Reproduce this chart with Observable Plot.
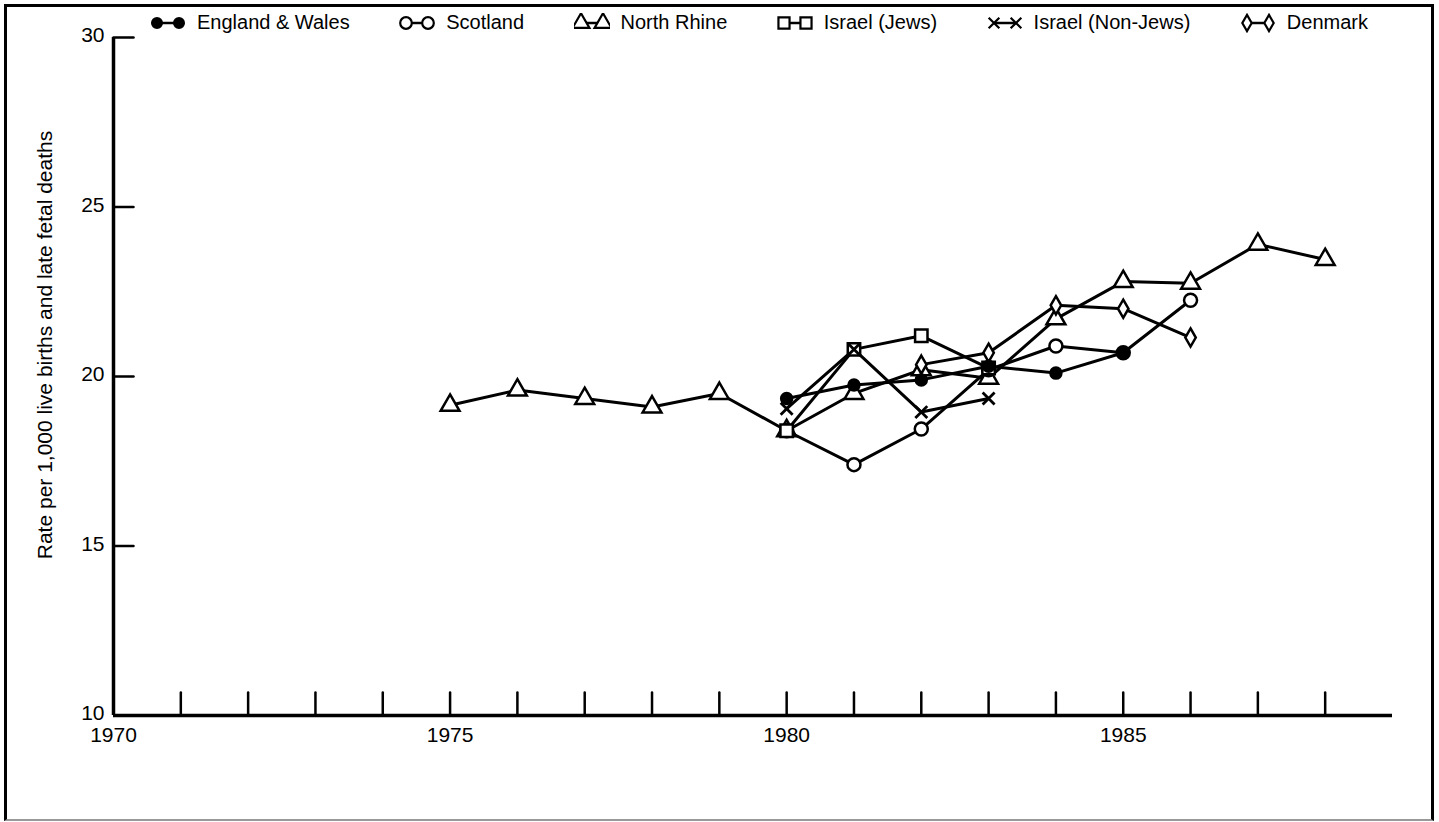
<!DOCTYPE html>
<html><head><meta charset="utf-8">
<script src="https://cdn.jsdelivr.net/npm/d3@7"></script>
<script src="https://cdn.jsdelivr.net/npm/@observablehq/plot@0.6"></script>
<style>
html,body{margin:0;padding:0;background:#fff;}
body{width:1439px;height:822px;overflow:hidden;position:relative;font-family:"Liberation Sans",Arial,sans-serif;color:#000;}
#chart{position:absolute;left:0;top:0;}
#frame{position:absolute;left:4px;top:4px;width:1430px;height:817px;border:3px solid #000;border-bottom:2px solid #999;box-sizing:border-box;pointer-events:none;}
#legend{position:absolute;left:150px;top:11px;width:1218px;display:flex;justify-content:space-between;align-items:center;font-size:20px;}
.item{display:flex;align-items:center;gap:11px;white-space:nowrap;}
.item svg{display:block;}
#ytitle{position:absolute;left:45px;top:345px;transform:translate(-50%,-50%) rotate(-90deg);white-space:nowrap;font-size:21px;}
</style></head>
<body>
<div id="chart"></div>
<div id="legend"></div>
<div id="ytitle">Rate per 1,000 live births and late fetal deaths</div>
<div id="frame"></div>
<script>
// ---- data ----
const seriesNames = ["England & Wales", "Scotland", "North Rhine", "Israel (Jews)", "Israel (Non-Jews)", "Denmark"];

const englandWalesYears = [1980, 1981, 1982, 1983, 1984, 1985];
const englandWalesRates = [19.35, 19.75, 19.9, 20.3, 20.1, 20.7];

const scotlandYears = [1980, 1981, 1982, 1983, 1984, 1985, 1986];
const scotlandRates = [18.4, 17.4, 18.45, 20.2, 20.9, 20.7, 22.25];

const northRhineYears = [1975, 1976, 1977, 1978, 1979, 1980, 1981, 1982, 1983, 1984, 1985, 1986, 1987, 1988];
const northRhineRates = [19.15, 19.6, 19.35, 19.1, 19.5, 18.4, 19.5, 20.2, 19.95, 21.7, 22.8, 22.75, 23.9, 23.45];

const israelJewsYears = [1980, 1981, 1982, 1983];
const israelJewsRates = [18.4, 20.8, 21.2, 20.25];

const israelNonJewsYears = [1980, 1981, 1982, 1983];
const israelNonJewsRates = [19.05, 20.8, 18.95, 19.35];

const denmarkYears = [1982, 1983, 1984, 1985, 1986];
const denmarkRates = [20.35, 20.7, 22.1, 22.0, 21.15];

const xLabelYears = [1970, 1975, 1980, 1985];
const xMinorTickYears = [1971, 1972, 1973, 1974, 1975, 1976, 1977, 1978, 1979, 1980, 1981, 1982, 1983, 1984, 1985, 1986, 1987, 1988];
const yTicks = [10, 15, 20, 25, 30];

// marker styles per series
const markerSymbol = ["circle", "circle", "triangle", "square", "times", "diamond"];
const markerFill   = ["#000", "#fff", "#fff", "#fff", "none", "#fff"];
const markerR      = [5.5, 6.5, 7, 7, 5.5, 5.5];

// ---- build table ----
const yearsBySeries = [englandWalesYears, scotlandYears, northRhineYears, israelJewsYears, israelNonJewsYears, denmarkYears];
const ratesBySeries = [englandWalesRates, scotlandRates, northRhineRates, israelJewsRates, israelNonJewsRates, denmarkRates];
const rows = [];
seriesNames.forEach((name, i) => {
  yearsBySeries[i].forEach((yr, j) => rows.push({series: name, idx: i, year: yr, rate: ratesBySeries[i][j]}));
});

const tickShape = {draw(context, l) { context.moveTo(0, 0); context.lineTo(0, -l); }};

const drawOrder = [2, 1, 3, 5, 4, 0];
const dotMarks = drawOrder.map(i => Plot.dot(rows.filter(d => d.idx === i), {
  x: "year", y: "rate", symbol: markerSymbol[i], r: markerR[i],
  fill: markerFill[i], stroke: "#000", strokeWidth: i === 4 ? 2.8 : 2.5
}));

const chart = Plot.plot({
  width: 1439, height: 822,
  marginLeft: 113, marginRight: 47, marginTop: 37, marginBottom: 107,
  style: {fontFamily: "'Liberation Sans', Arial, sans-serif", fontSize: "21px", background: "transparent", color: "#000"},
  x: {domain: [1970, 1989]},
  y: {domain: [10, 30]},
  marks: [
    Plot.axisX({ticks: xLabelYears, tickSize: 0, tickPadding: 12, tickFormat: d => String(d), fontSize: 21, label: null}),
    Plot.axisY({ticks: yTicks, tickSize: 0, tickPadding: 9, fontSize: 21, label: null, dy: -2}),
    Plot.vector(xMinorTickYears, {x: d => d, y: () => 10, length: 23, anchor: "start", rotate: 0, shape: tickShape, stroke: "#000", strokeWidth: 2.5}),
    Plot.vector(yTicks.filter(d => d > 10), {x: () => 1970, y: d => d, length: 20, anchor: "start", rotate: 90, shape: tickShape, stroke: "#000", strokeWidth: 2.5}),
    Plot.ruleY([10], {x1: 1970, x2: 1989, stroke: "#000", strokeWidth: 3.5}),
    Plot.ruleX([1970], {y1: 10, y2: 30, stroke: "#000", strokeWidth: 3.5}),
    Plot.line(rows, {x: "year", y: "rate", z: "series", stroke: "#000", strokeWidth: 3}),
    ...dotMarks
  ]
});
document.getElementById("chart").appendChild(chart);

// ---- legend ----
const legend = d3.select("#legend");
seriesNames.forEach((name, i) => {
  const item = legend.append("div").attr("class", "item");
  const svg = item.append("svg").attr("width", 36).attr("height", 20);
  svg.append("line").attr("x1", 8).attr("x2", 28).attr("y1", 10).attr("y2", 10)
    .attr("stroke", "#000").attr("stroke-width", 2.5);
  const symType = {circle: d3.symbolCircle, triangle: d3.symbolTriangle, square: d3.symbolSquare, times: d3.symbolTimes, diamond: d3.symbolDiamond}[markerSymbol[i]];
  const size = Math.PI * markerR[i] * markerR[i] * 0.8;
  [7, 29].forEach(cx => {
    svg.append("path").attr("transform", `translate(${cx},10)`)
      .attr("d", d3.symbol(symType, size)())
      .attr("fill", markerFill[i]).attr("stroke", "#000").attr("stroke-width", 2.2);
  });
  item.append("span").text(name);
});
</script>
</body></html>
